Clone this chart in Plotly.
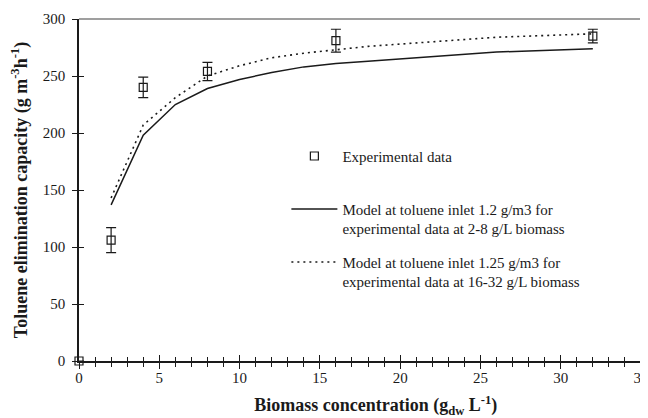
import plotly.graph_objects as go

# Experimental data
exp_x = [0, 2, 4, 8, 16, 32]
exp_y = [0, 106, 240, 254, 281, 285]
exp_err = [0, 11, 9, 8, 10, 6]

# Model curves
model_x = [2, 4, 6, 8, 10, 12, 14, 16, 18, 20, 22, 24, 26, 28, 30, 32]
model1_y = [137, 198, 225, 239, 247, 253, 258, 261, 263, 265, 267, 269, 271, 272, 273, 274]
model2_y = [143, 207, 231, 250, 259, 266, 270, 273, 276, 278, 280, 282, 284, 285, 286, 287]

exp_name = "Experimental data"
model1_name = "Model at toluene inlet 1.2 g/m3 for<br>experimental data at 2-8 g/L biomass"
model2_name = "Model at toluene inlet 1.25 g/m3 for<br>experimental data at 16-32 g/L biomass"

FONT = "Liberation Serif, Times New Roman, Times, serif"
INK = "#1a1a1a"

fig = go.Figure()
fig.add_trace(go.Scatter(
    x=exp_x, y=exp_y, mode="markers", name=exp_name + "<br> ",
    marker=dict(symbol="square-open", size=8, color=INK, line=dict(width=1.2, color=INK)),
    error_y=dict(type="data", array=exp_err, visible=True, color=INK, thickness=1.2, width=5),
    cliponaxis=False, legendgroup="a",
))
fig.add_trace(go.Scatter(
    x=model_x, y=model1_y, mode="lines", name=model1_name,
    line=dict(color=INK, width=1.5), legendgroup="b",
))
fig.add_trace(go.Scatter(
    x=model_x, y=model2_y, mode="lines", name=model2_name,
    line=dict(color=INK, width=1.6, dash="2px,4px"), legendgroup="c",
))
# overlay axes used only for the inner halves of the crossing ticks
fig.add_trace(go.Scatter(x=[], y=[], xaxis="x2", yaxis="y2", showlegend=False, hoverinfo="skip"))

axis_font = dict(family=FONT, size=15, color=INK)
title_font = dict(family=FONT, size=18, color=INK)
# the page body adds an 8px offset; figure sized so it fits the 648x418 window
fig.update_layout(
    width=640, height=410,
    margin=dict(l=71, r=7, t=11, b=57),
    paper_bgcolor="white", plot_bgcolor="white",
    font=dict(family=FONT, color=INK),
    showlegend=True,
    legend=dict(
        x=0.369, y=0.647, xanchor="left", yanchor="top",
        font=dict(family=FONT, size=15, color=INK),
        valign="top", traceorder="grouped", tracegroupgap=11,
        bgcolor="rgba(0,0,0,0)", itemwidth=46,
    ),
    xaxis=dict(
        range=[0, 35], dtick=5, tick0=0, showgrid=False, zeroline=False, automargin=False,
        showline=True, linecolor=INK, linewidth=1.5,
        ticks="outside", ticklen=6, tickwidth=1.2, tickcolor=INK,
        minor=dict(dtick=1, ticks="outside", ticklen=4, tickwidth=1.2, tickcolor=INK),
        tickfont=axis_font, ticklabelstandoff=-4, ticklabeloverflow="allow",
        title=dict(text="<b>\u00a0\u00a0\u00a0\u00a0\u00a0\u00a0\u00a0Biomass concentration (g<sub>dw</sub> L<sup>-1</sup>)</b>",
                   font=title_font, standoff=14),
    ),
    yaxis=dict(
        range=[0, 300], dtick=50, showgrid=False, zeroline=False, automargin=False,
        showline=True, linecolor=INK, linewidth=1.5,
        ticks="outside", ticklen=5, tickwidth=1.2, tickcolor=INK,
        tickfont=axis_font, ticklabelstandoff=4,
        title=dict(text="<b>Toluene elimination capacity (g m<sup>-3</sup>h<sup>-1</sup>)</b>",
                   font=title_font, standoff=12),
    ),
    xaxis2=dict(
        overlaying="x", matches="x", range=[0, 35], dtick=5, showgrid=False, zeroline=False,
        automargin=False,
        showline=False, ticks="inside", ticklen=6, tickwidth=1.2, tickcolor=INK,
        minor=dict(dtick=1, ticks="inside", ticklen=4, tickwidth=1.2, tickcolor=INK),
        showticklabels=False,
    ),
    yaxis2=dict(
        overlaying="y", matches="y", range=[0, 300], dtick=50, showgrid=False, zeroline=False,
        automargin=False,
        showline=False, ticks="inside", ticklen=5, tickwidth=1.2, tickcolor=INK,
        showticklabels=False,
    ),
    shapes=[
        dict(type="line", xref="paper", yref="paper", x0=0, x1=1, y0=1, y1=1,
             line=dict(color="#7f7f7f", width=1.5)),
        dict(type="line", xref="paper", yref="paper", x0=1, x1=1, y0=0, y1=1,
             line=dict(color="#7f7f7f", width=1.5)),
    ],
)

fig.write_html("out.html")
